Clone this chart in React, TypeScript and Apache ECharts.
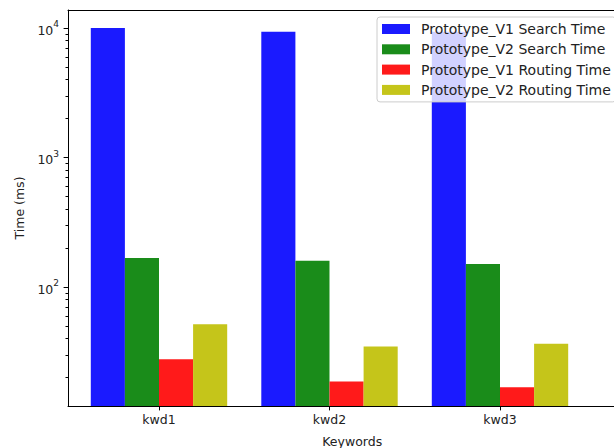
import React, { useEffect, useRef } from "react";
import * as echarts from "echarts";

const categories = ["kwd1", "kwd2", "kwd3"];
const v1Search = [10000, 9370, 9350];
const v2Search = [168, 160, 151];
const v1Routing = [27.8, 18.7, 16.9];
const v2Routing = [51.8, 34.8, 36.5];
const seriesNames = [
  "Prototype_V1 Search Time",
  "Prototype_V2 Search Time",
  "Prototype_V1 Routing Time",
  "Prototype_V2 Routing Time",
];
const seriesColors = ["#1a1aff", "#1a8c1a", "#ff1a1a", "#c5c51a"];
const majorTicks = [100, 1000, 10000];
const minorTicks = [20, 30, 40, 50, 60, 70, 80, 90, 200, 300, 400, 500, 600, 700, 800, 900, 2000, 3000, 4000, 5000, 6000, 7000, 8000, 9000];

const FONT = "DejaVu Sans";
const FS = 12.5;
const LEG_FS = 14;
const Y_MIN = 12.1;
const Y_MAX = 13780;
const X_MIN = -0.5337;
const X_MAX = 2.8;
const CHART_W = 650;
const GRID_LEFT = 68;
const GRID_RIGHT = 13.6;
const PLOT_W = CHART_W - GRID_LEFT - GRID_RIGHT;

export default function App() {
  const ref = useRef<HTMLDivElement>(null);
  useEffect(() => {
    if (!ref.current) return;
    const chart = echarts.init(ref.current, undefined, { renderer: "svg" });
    const allValues = [v1Search, v2Search, v1Routing, v2Routing];
    const xIdx = categories.map((_, i) => i);
    chart.setOption({
      animation: false,
      backgroundColor: "#fff",
      textStyle: { fontFamily: FONT },
      grid: {
        left: GRID_LEFT,
        top: 10,
        bottom: 42,
        right: GRID_RIGHT,
        outerBoundsMode: "none",
        containLabel: false,
        show: false,
      },
      legend: {
        orient: "vertical",
        left: 377,
        top: 17,
        itemWidth: 28,
        itemHeight: 10,
        itemGap: 4.3,
        padding: [4, 5, 4, 5],
        backgroundColor: "rgba(255,255,255,0.8)",
        borderColor: "#cccccc",
        borderWidth: 1,
        borderRadius: 3,
        icon: "rect",
        data: seriesNames,
        textStyle: { fontFamily: FONT, fontSize: LEG_FS, color: "#222", lineHeight: 16, padding: [0, 0, 0, 6] },
      },
      xAxis: [
        {
          type: "value",
          min: X_MIN,
          max: X_MAX,
          position: "bottom",
          splitLine: { show: false },
          axisLine: { show: true, onZero: false, lineStyle: { color: "#000", width: 1 } },
          axisTick: { show: true, length: 4.4, customValues: xIdx, lineStyle: { color: "#000" } },
          axisLabel: {
            customValues: xIdx,
            formatter: (v: number) => categories[Math.round(v)] ?? "",
            fontFamily: FONT,
            fontSize: FS,
            color: "#222",
            margin: 7,
          },
          name: "Keywords",
          nameLocation: "middle",
          nameGap: 29,
          nameTextStyle: { fontFamily: FONT, fontSize: FS, color: "#222" },
        },
        {
          type: "value",
          min: X_MIN,
          max: X_MAX,
          position: "top",
          splitLine: { show: false },
          axisLine: { show: true, onZero: false, lineStyle: { color: "#000", width: 1 } },
          axisTick: { show: false },
          axisLabel: { show: false },
        },
      ],
      yAxis: [
        {
          type: "log",
          logBase: 10,
          min: Y_MIN,
          max: Y_MAX,
          position: "left",
          splitLine: { show: false },
          axisLine: { show: true, onZero: false, lineStyle: { color: "#000", width: 1 } },
          axisTick: { show: true, length: 4.4, customValues: majorTicks, lineStyle: { color: "#000" } },
          axisLabel: {
            customValues: majorTicks,
            formatter: (v: number) => `{b|10}{s|${Math.round(Math.log10(v))}}`,
            margin: 9,
            color: "#222",
            rich: {
              b: { fontFamily: FONT, fontSize: FS, color: "#222", lineHeight: 17, verticalAlign: "bottom" },
              s: { fontFamily: FONT, fontSize: 9, color: "#222", lineHeight: 17, verticalAlign: "top" },
            },
          },
          name: "Time (ms)",
          nameLocation: "middle",
          nameGap: 42,
          nameRotate: 90,
          nameTextStyle: { fontFamily: FONT, fontSize: FS, color: "#222" },
        },
        {
          type: "log",
          logBase: 10,
          min: Y_MIN,
          max: Y_MAX,
          position: "right",
          offset: -PLOT_W - 2.5,
          splitLine: { show: false },
          axisLine: { show: false, onZero: false },
          axisTick: { show: true, length: 2.5, customValues: minorTicks, lineStyle: { color: "#000" } },
          axisLabel: { show: false },
        },
      ],
      series: allValues.map((vals, s) => ({
        name: seriesNames[s],
        type: "bar",
        xAxisIndex: 0,
        yAxisIndex: 0,
        barWidth: 34.1,
        barGap: "0%",
        clip: true,
        itemStyle: { color: seriesColors[s] },
        data: vals.map((v, i) => [i, v]),
      })),
    });
    return () => chart.dispose();
  }, []);
  return (
    <div style={{ position: "absolute", left: 0, top: 0, width: 614, height: 448, overflow: "hidden" }}>
      <div ref={ref} style={{ width: CHART_W, height: 448 }} />
    </div>
  );
}
